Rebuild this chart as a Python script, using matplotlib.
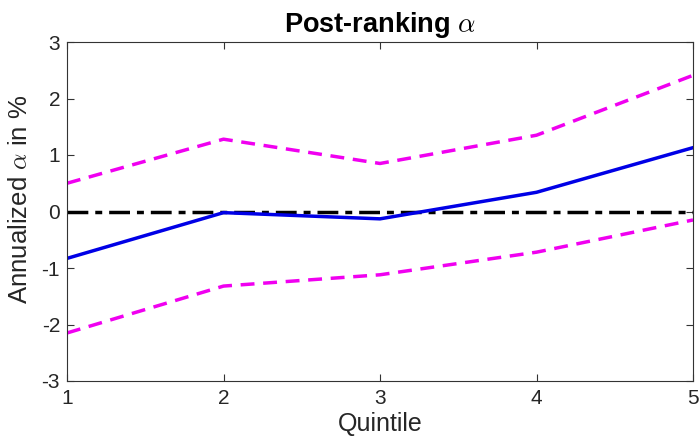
import matplotlib
matplotlib.use('Agg')
import matplotlib.pyplot as plt

plt.rcParams['font.family'] = ['Liberation Sans', 'DejaVu Sans']
plt.rcParams['mathtext.fontset'] = 'cm'
plt.rcParams['text.color'] = '#262626'
plt.rcParams['axes.labelcolor'] = '#262626'

# Data
quintiles = [1, 2, 3, 4, 5]
alpha = [-0.83, -0.02, -0.13, 0.34, 1.13]
upper = [0.50, 1.28, 0.85, 1.35, 2.41]
lower = [-2.15, -1.32, -1.12, -0.72, -0.15]
zero = [0, 0, 0, 0, 0]

fig = plt.figure(figsize=(6.99, 4.37), dpi=100)
ax = fig.add_axes([67/699, 1 - 381/437, (693-67)/699, (381-42)/437])

ax.plot(quintiles, zero, color='black', linestyle='-.', linewidth=2.5, dashes=(6, 2, 2, 2))
ax.plot(quintiles, alpha, color='#0000e6', linewidth=2.5)
ax.plot(quintiles, upper, color='#f000f0', linestyle='--', linewidth=2.5, dashes=(4, 2.5))
ax.plot(quintiles, lower, color='#f000f0', linestyle='--', linewidth=2.5, dashes=(4, 2.5))

ax.set_xlim(1, 5)
ax.set_ylim(-3, 3)
ax.set_xticks(quintiles)
ax.set_yticks(range(-3, 4))
ax.set_yticklabels([str(v) for v in range(-3, 4)])
ax.tick_params(direction='in', top=True, right=True, labelsize=15, length=5,
               color='#333333', labelcolor='#262626')
ax.tick_params(axis='y', pad=5)
ax.tick_params(axis='x', pad=6)
for s in ax.spines.values():
    s.set_color('#333333')
    s.set_linewidth(0.8)

ax.set_title(r'Post-ranking $\alpha$', fontsize=19.5, fontweight='bold', pad=7, color='black')
ax.set_xlabel('Quintile', fontsize=18, labelpad=3)
ax.set_ylabel(r'Annualized $\alpha$ in %', fontsize=18.5)
ax.yaxis.set_label_coords(-0.056, 0.535)

fig.savefig('out.png', dpi=100)
